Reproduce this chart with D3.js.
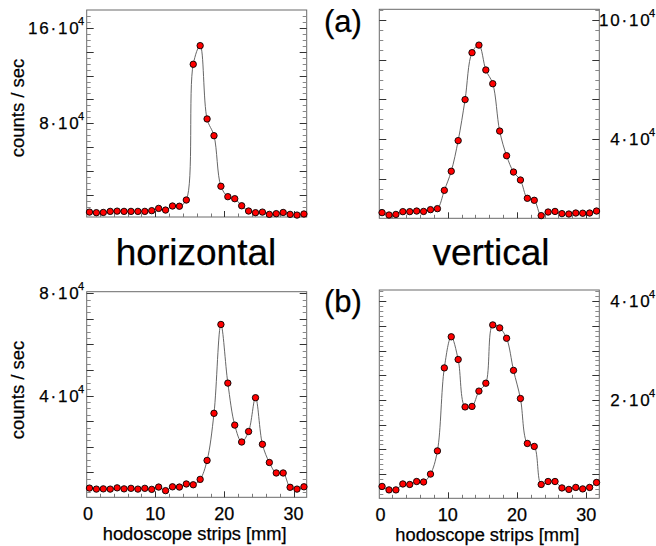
<!DOCTYPE html>
<html>
<head>
<meta charset="utf-8">
<script src="https://cdn.jsdelivr.net/npm/d3@7"></script>
<style>
  html, body { margin: 0; padding: 0; background: #fff; }
  svg { display: block; font-family: "Liberation Sans", Arial, Helvetica, sans-serif; }
  text { fill: #000; stroke: #000; stroke-width: 0.25px; }
</style>
</head>
<body>
<svg id="chart" width="656" height="546"></svg>
<script>
// strip centres [mm]
const strips = [0.5,1.5,2.5,3.5,4.5,5.5,6.5,7.5,8.5,9.5,10.5,11.5,12.5,13.5,14.5,15.5,
                16.5,17.5,18.5,19.5,20.5,21.5,22.5,23.5,24.5,25.5,26.5,27.5,28.5,29.5,30.5,31.5];

// counts / sec, in units of 10^4
const horizontalA = [0.58,0.53,0.55,0.64,0.66,0.64,0.64,0.64,0.64,0.70,0.89,0.75,1.09,1.07,1.59,12.94,
                     14.50,8.37,6.97,2.74,1.87,1.70,1.11,0.67,0.53,0.58,0.39,0.45,0.55,0.39,0.33,0.42];
const verticalA   = [0.31,0.19,0.22,0.36,0.36,0.39,0.37,0.46,0.51,1.43,2.39,3.93,5.99,8.35,8.73,7.48,
                     6.79,4.41,3.17,2.35,1.95,1.03,0.93,0.16,0.34,0.37,0.26,0.24,0.29,0.28,0.29,0.39];
const horizontalB = [0.39,0.35,0.36,0.35,0.40,0.36,0.38,0.35,0.38,0.34,0.43,0.29,0.44,0.43,0.55,0.52,
                     0.73,1.47,3.31,6.78,4.49,2.85,2.19,2.60,3.92,2.10,1.39,0.98,0.98,0.42,0.35,0.44];
const verticalB   = [0.25,0.18,0.18,0.30,0.29,0.35,0.34,0.50,0.97,2.65,3.28,2.82,1.86,1.87,2.18,2.34,
                     3.52,3.46,3.25,2.60,2.03,1.12,1.06,0.29,0.35,0.35,0.22,0.19,0.23,0.20,0.23,0.33];

// labelled y ticks (units of 10^4)
const yLabelsHA = [8, 16];
const yLabelsVA = [4, 10];
const yLabelsHB = [4, 8];
const yLabelsVB = [2, 4];
// x tick labels [mm]
const xLabels = [0, 10, 20, 30];

const svg = d3.select("#chart");

function panel(cfg) {
  const g = svg.append("g");
  const x = d3.scaleLinear().domain([0.1, 31.9]).range([cfg.x0, cfg.x0 + 220]);
  const y = d3.scaleLinear().domain(cfg.yDomain).range([cfg.yBottom, cfg.yTop]);
  const [xl, xr] = x.range();

  // frame
  g.append("rect")
    .attr("x", xl).attr("y", cfg.yTop)
    .attr("width", xr - xl).attr("height", cfg.yBottom - cfg.yTop)
    .attr("fill", "none").attr("stroke", "#6a6a6a").attr("stroke-width", 1);

  // y ticks (inward on both sides)
  const minorY = d3.range(Math.ceil(cfg.yDomain[0] / cfg.minor) * cfg.minor, cfg.yDomain[1], cfg.minor);
  minorY.forEach(v => {
    const isMajor = Math.abs(v / cfg.major - Math.round(v / cfg.major)) < 1e-6;
    const len = isMajor ? 7 : 4;
    const col = isMajor ? "#333" : "#888";
    const yy = Math.round(y(v)) + 0.5;
    g.append("line").attr("x1", xl).attr("x2", xl + len).attr("y1", yy).attr("y2", yy)
      .attr("stroke", col).attr("stroke-width", 1);
    g.append("line").attr("x1", xr).attr("x2", xr - len).attr("y1", yy).attr("y2", yy)
      .attr("stroke", col).attr("stroke-width", 1);
  });

  // x ticks (inward, bottom)
  d3.range(0, 33, 2).forEach(v => {
    if (x(v) < xl - 0.1 || x(v) > xr + 0.1) return;
    const isMajor = v % 10 === 0;
    const len = isMajor ? 6 : 3.5;
    const xx = Math.round(x(v)) + 0.5;
    g.append("line").attr("x1", xx).attr("x2", xx)
      .attr("y1", cfg.yBottom).attr("y2", cfg.yBottom - len)
      .attr("stroke", isMajor ? "#333" : "#777").attr("stroke-width", 1);
  });

  // y labels
  cfg.yLabels.forEach(v => {
    const t = g.append("text")
      .attr("x", cfg.labelX)
      .attr("y", y(v) + 6)
      .attr("text-anchor", "end")
      .attr("font-size", 17);
    t.append("tspan").attr("letter-spacing", 1.8).text(v + "·1");
    t.append("tspan").text("0");
    t.append("tspan").attr("dy", -9).attr("dx", -0.8).attr("font-size", 11).text("4");
  });

  // x labels
  if (cfg.xAxis) {
    xLabels.forEach(v => {
      g.append("text")
        .attr("x", x(v) + (v === 0 ? 2 : 0))
        .attr("y", cfg.yBottom + 23)
        .attr("text-anchor", "middle")
        .attr("font-size", 18)
        .text(v);
    });
    g.append("text")
      .attr("x", (xl + xr) / 2 - 2)
      .attr("y", cfg.yBottom + 43)
      .attr("text-anchor", "middle")
      .attr("font-size", 18.3)
      .text("hodoscope strips [mm]");
  }

  const pts = strips.map((s, i) => [s, cfg.values[i]]);
  const line = d3.line().x(d => x(d[0])).y(d => y(d[1])).curve(d3.curveCatmullRom.alpha(0.5));
  g.append("path").attr("d", line(pts))
    .attr("fill", "none").attr("stroke", "#555").attr("stroke-width", 0.9);
  g.selectAll("circle.pt").data(pts).enter().append("circle")
    .attr("class", "pt")
    .attr("cx", d => x(d[0])).attr("cy", d => y(d[1]))
    .attr("r", 3.2)
    .attr("fill", "#f00").attr("stroke", "#000").attr("stroke-width", 0.9);
}

panel({ x0: 86.7, yTop: 10, yBottom: 217, yDomain: [0.17, 17.48], major: 2, minor: 0.5,
        values: horizontalA, yLabels: yLabelsHA, labelX: 84, xAxis: false });
panel({ x0: 379.3, yTop: 9.3, yBottom: 218.3, yDomain: [0.025, 10.53], major: 2, minor: 0.5,
        values: verticalA, yLabels: yLabelsVA, labelX: 655, xAxis: false });
panel({ x0: 86.7, yTop: 291.7, yBottom: 497.3, yDomain: [0.03, 8.06], major: 1, minor: 0.25,
        values: horizontalB, yLabels: yLabelsHB, labelX: 84, xAxis: true });
panel({ x0: 379.3, yTop: 290, yBottom: 498.3, yDomain: [0.01, 4.227], major: 0.5, minor: 0.1,
        values: verticalB, yLabels: yLabelsVB, labelX: 655, xAxis: true });

// y axis titles
[108, 390].forEach(cy => {
  svg.append("text")
    .attr("transform", `translate(24,${cy}) rotate(-90)`)
    .attr("text-anchor", "middle")
    .attr("font-size", 18.5)
    .text("counts / sec");
});

// panel tags
svg.append("text").attr("x", 343).attr("y", 32).attr("text-anchor", "middle")
  .attr("font-size", 31).text("(a)");
svg.append("text").attr("x", 343).attr("y", 312).attr("text-anchor", "middle")
  .attr("font-size", 31).text("(b)");

// orientation titles
svg.append("text").attr("x", 196).attr("y", 265).attr("text-anchor", "middle")
  .attr("font-size", 37).text("horizontal");
svg.append("text").attr("x", 491).attr("y", 265).attr("text-anchor", "middle")
  .attr("font-size", 37).text("vertical");
</script>
</body>
</html>
